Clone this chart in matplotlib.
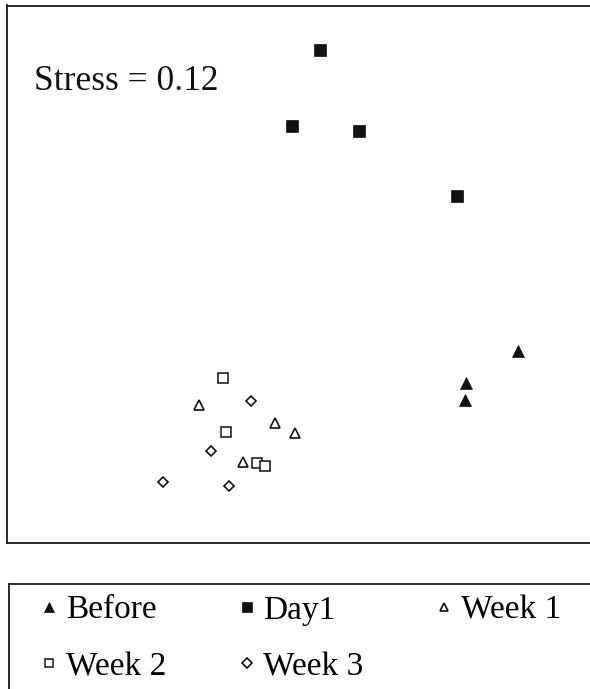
import matplotlib
matplotlib.use("Agg")
import matplotlib.pyplot as plt

# NMDS ordination coordinates
before_x = [2.18, 1.66, 1.65]
before_y = [-0.51, -0.83, -1.00]
day1_x = [0.20, -0.08, 0.585, 1.57]
day1_y = [2.50, 1.74, 1.69, 1.04]
week1_x = [-1.01, -0.25, -0.05, -0.57]
week1_y = [-1.05, -1.23, -1.33, -1.62]
week2_x = [-0.77, -0.74, -0.43, -0.35]
week2_y = [-0.78, -1.32, -1.63, -1.66]
week3_x = [-0.49, -0.89, -1.37, -0.71]
week3_y = [-1.01, -1.51, -1.82, -1.86]
stress_label = "Stress = 0.12"

plt.rcParams['font.family'] = ['Liberation Serif', 'DejaVu Serif']

W, H = 590, 689
fig = plt.figure(figsize=(W / 100, H / 100), dpi=100)

# main ordination box (right edge runs off the image)
left, right, top, bottom = 7, 610, 5.5, 542.5
ax = fig.add_axes([left / W, 1 - bottom / H, (right - left) / W, (bottom - top) / H])
ax.set_xlim(-2.93, -2.93 + (right - left) / 100)
ax.set_ylim((300 - bottom) / 100, (300 - top) / 100)
ax.set_xticks([])
ax.set_yticks([])
for s in ax.spines.values():
    s.set_linewidth(1.3)
    s.set_color('#1a1a1a')

k = '#111111'
h_before, = ax.plot(before_x, before_y, ls='none', marker='^', ms=8.5,
                    mfc=k, mec=k, mew=0.5, label='Before')
h_day1, = ax.plot(day1_x, day1_y, ls='none', marker='s', ms=8,
                  mfc=k, mec=k, mew=0.5, label='Day1')
h_w1, = ax.plot(week1_x, week1_y, ls='none', marker='^', ms=7,
                mfc='white', mec=k, mew=1.2, label='Week 1')
h_w2, = ax.plot(week2_x, week2_y, ls='none', marker='s', ms=7,
                mfc='white', mec=k, mew=1.1, label='Week 2')
h_w3, = ax.plot(week3_x, week3_y, ls='none', marker='D', ms=5.5,
                mfc='white', mec=k, mew=1.2, label='Week 3')

ax.text(0.0455, (bottom - 90) / (bottom - top), stress_label,
        transform=ax.transAxes, fontsize=25.5, va='baseline', ha='left', color='#111111')

# legend box (runs off right and bottom)
lleft, ltop, lbottom = 9, 583.5, 720
lax = fig.add_axes([lleft / W, 1 - lbottom / H, (right - lleft) / W, (lbottom - ltop) / H])
lax.set_xticks([])
lax.set_yticks([])
for s in lax.spines.values():
    s.set_linewidth(1.3)
    s.set_color('#1a1a1a')

handles = [h_before, h_w2, h_day1, h_w3, h_w1]
labels = [h.get_label() for h in handles]
fig.legend(handles, labels, ncol=3, loc='upper left',
           bbox_to_anchor=(39 / W, 1 - 595 / H), bbox_transform=fig.transFigure,
           frameon=False, borderpad=0, borderaxespad=0,
           handlelength=0.6, handletextpad=0.2, columnspacing=2.12,
           labelspacing=0.78, markerscale=0.9,
           prop={'family': 'Liberation Serif', 'size': 24})

fig.savefig('out.png', dpi=100)
